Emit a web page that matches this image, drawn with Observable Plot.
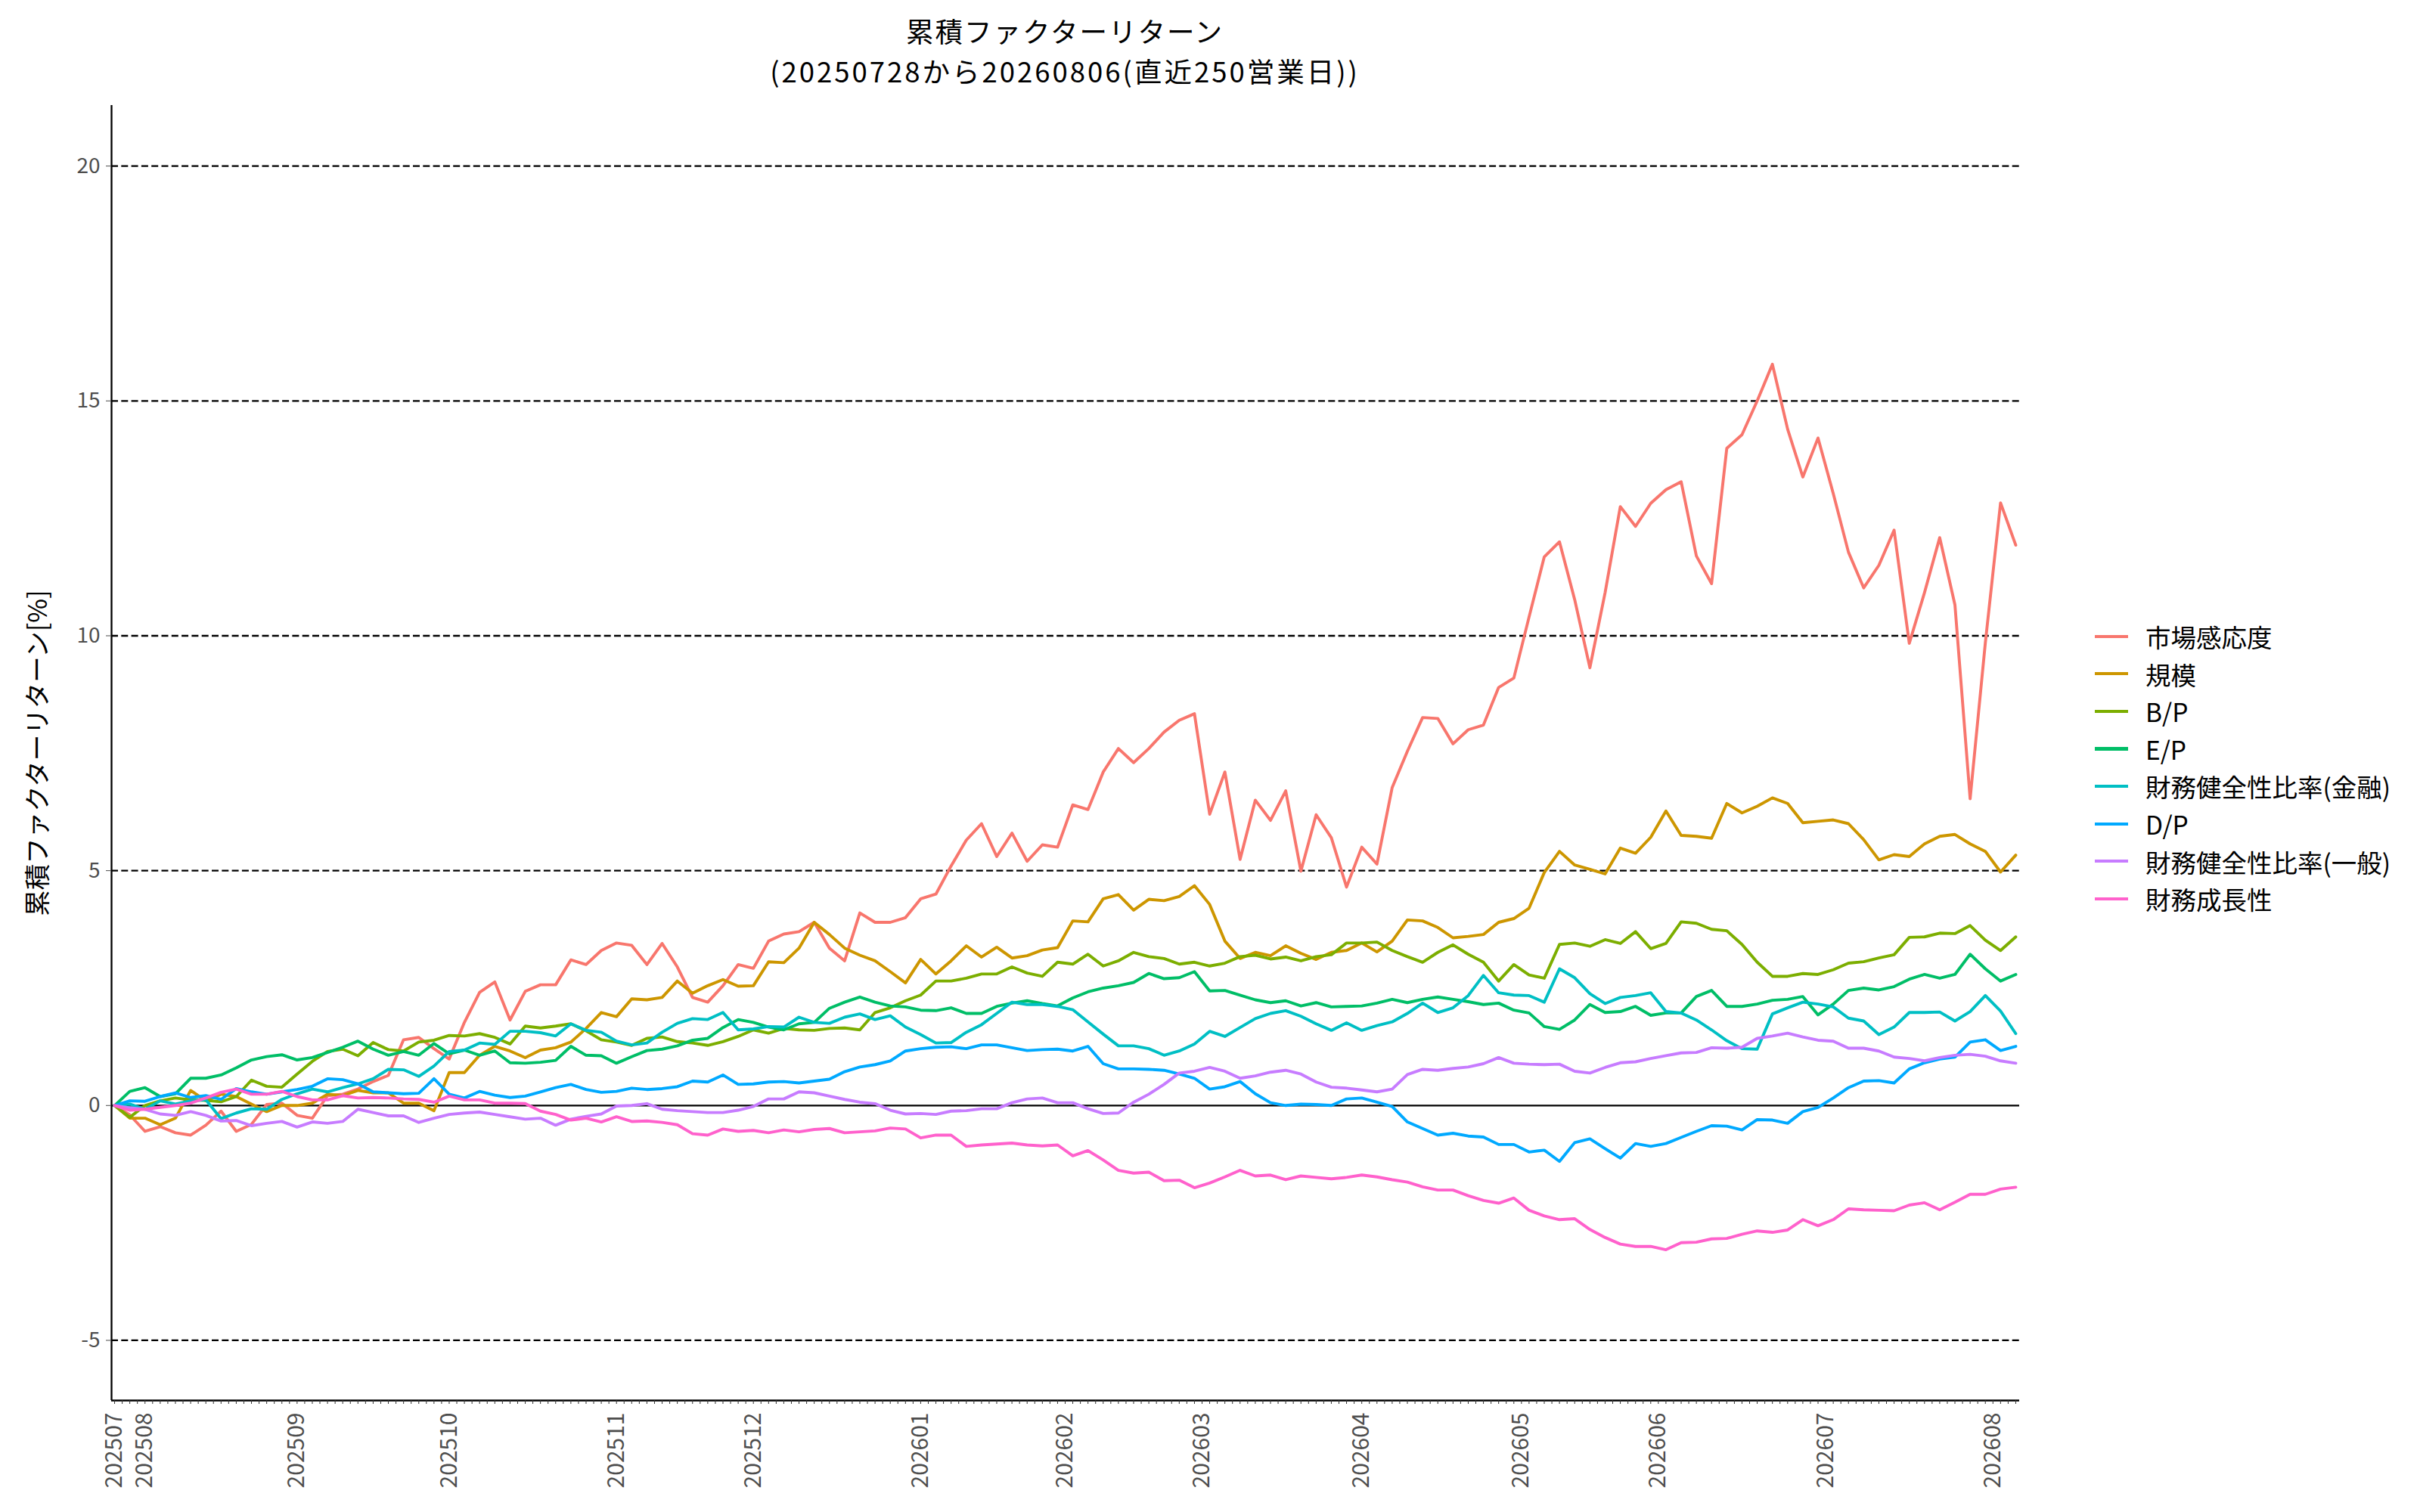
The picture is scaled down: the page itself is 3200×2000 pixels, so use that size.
<!DOCTYPE html>
<html><head><meta charset="utf-8">
<script src="https://cdn.jsdelivr.net/npm/d3@7"></script>
<script src="https://cdn.jsdelivr.net/npm/@observablehq/plot@0.6"></script>
<style>
html,body{margin:0;padding:0;background:#fff;}
#wrap{position:relative;width:3200px;height:2000px;font-family:"Noto Sans CJK JP",sans-serif;}
#chart{position:absolute;left:0;top:0;}
#title{position:absolute;left:0;width:2816px;top:14px;text-align:center;font-size:36.5px;color:#000;}
#title div{display:block;height:53px;line-height:53px;white-space:nowrap;}
#title .t1{letter-spacing:2px;}
#title .t2{letter-spacing:3px;}
#legend{position:absolute;left:2770px;top:817px;}
.item{display:flex;align-items:center;height:49.6px;}
.key{width:44px;height:4.2px;margin-right:23px;}
.lab{font-size:33.5px;color:#000;white-space:nowrap;line-height:1;}
</style></head><body>
<div id="wrap"><div id="chart"></div><div id="title"><div class="t1">累積ファクターリターン</div><div class="t2">(20250728から20260806(直近250営業日))</div></div><div id="legend"></div></div>
<script>
// ---- data ----
const factors = ["市場感応度","規模","B/P","E/P","財務健全性比率(金融)","D/P","財務健全性比率(一般)","財務成長性"];
const colors  = ["#F8766D","#CD9600","#7CAE00","#00BE67","#00BFC4","#00A9FF","#C77CFF","#FF61CC"];
const monthLabels   = ["202507","202508","202509","202510","202511","202512","202601","202602","202603","202604","202605","202606","202607","202608"];
const monthStartDay = [0,4,24,44,66,84,106,125,143,164,185,203,225,247];
const yTicks = [-5,0,5,10,15,20];
const yTitle = "累積ファクターリターン[%]";
const lastDay = 250;
// sampled every 2nd business day (day index 0,2,...,250)
const sampleDays = d3.range(0, lastDay + 1, 2);

const market = [0,-0.2,-0.55,-0.45,-0.58,-0.63,-0.42,-0.12,-0.55,-0.4,0.02,0.05,-0.21,-0.27,0.21,0.24,0.35,0.51,0.64,1.4,1.45,1.21,0.99,1.77,2.41,2.63,1.82,2.43,2.57,2.57,
 3.1,3.0,3.3,3.46,3.41,3.0,3.45,2.95,2.3,2.2,2.55,3.0,2.92,3.5,3.65,3.7,3.9,3.35,3.08,4.1,3.9,3.9,4.0,4.4,4.5,5.1,5.65,6.0,5.3,5.8,
 5.2,5.55,5.5,6.4,6.3,7.1,7.6,7.3,7.6,7.95,8.2,8.34,6.2,7.1,5.24,6.5,6.07,6.7,4.99,6.19,5.7,4.65,5.5,5.14,6.77,7.54,8.26,8.24,7.7,8.0,
 8.1,8.9,9.1,10.4,11.68,12.0,10.77,9.32,10.92,12.75,12.33,12.82,13.11,13.28,11.7,11.11,13.99,14.28,15.0,15.78,14.4,13.38,14.21,13.03,11.78,11.02,11.5,12.25,9.84,
 10.92,12.09,10.66,6.53,9.85,12.83,11.93];
const size = [0,-0.27,-0.27,-0.41,-0.27,0.32,0.1,0.24,0.19,0.03,-0.13,0,0,0.05,0.24,0.21,0.32,0.27,0.27,0.05,0.05,-0.11,0.7,0.7,1.07,1.26,1.16,1.02,1.18,1.23,
 1.35,1.64,1.98,1.89,2.27,2.25,2.3,2.65,2.39,2.55,2.68,2.54,2.55,3.06,3.04,3.35,3.9,3.64,3.35,3.2,3.08,2.85,2.61,3.11,2.8,3.08,3.4,3.16,3.37,3.14,
 3.19,3.31,3.36,3.93,3.91,4.4,4.49,4.16,4.39,4.36,4.45,4.68,4.28,3.5,3.13,3.26,3.19,3.4,3.24,3.11,3.26,3.3,3.46,3.27,3.5,3.95,3.93,3.79,3.57,3.6,
 3.64,3.9,3.98,4.2,4.96,5.41,5.12,5.03,4.93,5.48,5.37,5.71,6.27,5.75,5.73,5.69,6.43,6.23,6.37,6.55,6.43,6.02,6.05,6.08,6.0,5.66,5.23,5.34,5.3,
 5.57,5.73,5.77,5.57,5.41,4.97,5.33];
const bp = [0,-0.25,0.0,0.1,0.16,0.12,0.11,0.08,0.19,0.54,0.41,0.39,0.67,0.94,1.15,1.2,1.06,1.34,1.19,1.16,1.35,1.39,1.49,1.48,1.53,1.45,1.31,1.69,1.65,1.69,
 1.74,1.59,1.4,1.35,1.28,1.43,1.46,1.36,1.33,1.28,1.36,1.47,1.61,1.54,1.64,1.61,1.6,1.64,1.65,1.61,1.98,2.08,2.23,2.35,2.65,2.65,2.71,2.8,2.8,2.95,
 2.82,2.75,3.05,3.01,3.22,2.97,3.08,3.26,3.17,3.13,3.01,3.05,2.97,3.03,3.17,3.2,3.12,3.16,3.08,3.17,3.21,3.46,3.46,3.48,3.3,3.17,3.05,3.26,3.42,3.22,
 3.05,2.65,3.0,2.78,2.71,3.43,3.46,3.39,3.53,3.45,3.7,3.34,3.45,3.91,3.88,3.75,3.72,3.43,3.05,2.75,2.75,2.81,2.79,2.89,3.03,3.06,3.14,3.21,3.58,
 3.59,3.67,3.66,3.83,3.52,3.3,3.59];
const ep = [0,0.3,0.38,0.19,0.25,0.58,0.58,0.65,0.8,0.97,1.04,1.08,0.97,1.02,1.13,1.24,1.37,1.2,1.07,1.15,1.07,1.32,1.1,1.18,1.07,1.16,0.91,0.9,0.92,0.96,
 1.26,1.07,1.06,0.9,1.04,1.17,1.2,1.27,1.39,1.43,1.66,1.83,1.77,1.67,1.61,1.74,1.77,2.07,2.2,2.31,2.2,2.12,2.1,2.03,2.02,2.08,1.96,1.96,2.11,2.18,
 2.23,2.17,2.12,2.29,2.42,2.5,2.55,2.62,2.81,2.7,2.72,2.85,2.44,2.45,2.35,2.25,2.19,2.23,2.12,2.19,2.1,2.11,2.12,2.18,2.26,2.19,2.26,2.31,2.26,2.21,
 2.15,2.18,2.03,1.97,1.68,1.62,1.82,2.15,1.98,2.0,2.11,1.92,1.97,1.97,2.32,2.45,2.11,2.11,2.16,2.24,2.26,2.32,1.93,2.16,2.45,2.5,2.46,2.53,2.69,
 2.79,2.71,2.79,3.22,2.91,2.65,2.79];
const finHealthFin = [0,0.03,-0.08,0.1,0.03,0.1,0.12,-0.28,-0.16,-0.07,-0.08,0.13,0.25,0.35,0.29,0.38,0.46,0.57,0.77,0.76,0.62,0.84,1.15,1.18,1.33,1.3,1.58,1.58,1.55,1.48,
 1.74,1.6,1.56,1.37,1.29,1.33,1.56,1.75,1.85,1.83,1.98,1.61,1.63,1.68,1.67,1.88,1.77,1.75,1.88,1.95,1.83,1.91,1.67,1.51,1.33,1.34,1.56,1.72,1.96,2.2,
 2.15,2.15,2.11,2.04,1.78,1.52,1.27,1.27,1.21,1.07,1.16,1.31,1.58,1.47,1.66,1.85,1.96,2.02,1.9,1.74,1.6,1.76,1.6,1.7,1.78,1.96,2.18,1.98,2.08,2.34,
 2.77,2.4,2.35,2.34,2.2,2.91,2.72,2.38,2.17,2.3,2.34,2.4,2.0,1.97,1.82,1.61,1.38,1.21,1.2,1.95,2.08,2.2,2.16,2.1,1.86,1.8,1.51,1.67,1.98,
 1.98,1.99,1.8,2.0,2.34,2.01,1.53];
const dp = [0,0.1,0.09,0.19,0.27,0.17,0.21,0.13,0.36,0.29,0.24,0.29,0.34,0.41,0.57,0.55,0.46,0.29,0.27,0.25,0.26,0.57,0.24,0.16,0.3,0.22,0.17,0.2,0.29,0.38,
 0.45,0.34,0.28,0.3,0.37,0.34,0.36,0.4,0.52,0.5,0.65,0.45,0.46,0.5,0.51,0.48,0.52,0.56,0.72,0.82,0.87,0.95,1.16,1.21,1.24,1.25,1.21,1.29,1.29,1.23,
 1.17,1.19,1.2,1.16,1.26,0.89,0.78,0.78,0.77,0.75,0.67,0.58,0.35,0.4,0.51,0.25,0.06,0,0.03,0.02,0,0.14,0.16,0.07,-0.02,-0.35,-0.49,-0.63,-0.59,-0.65,
 -0.67,-0.83,-0.83,-0.99,-0.95,-1.19,-0.79,-0.71,-0.92,-1.12,-0.81,-0.87,-0.81,-0.68,-0.55,-0.43,-0.44,-0.52,-0.3,-0.31,-0.38,-0.13,-0.04,0.16,0.38,0.52,0.53,0.48,0.78,
 0.91,0.99,1.03,1.35,1.4,1.17,1.26];
const finHealthGen = [0,-0.05,-0.08,-0.18,-0.21,-0.13,-0.21,-0.33,-0.32,-0.43,-0.38,-0.34,-0.46,-0.35,-0.38,-0.34,-0.08,-0.15,-0.22,-0.22,-0.36,-0.27,-0.19,-0.16,-0.14,-0.19,-0.24,-0.29,-0.27,-0.42,
 -0.29,-0.23,-0.18,-0.01,0,0.04,-0.08,-0.11,-0.13,-0.15,-0.15,-0.1,-0.02,0.14,0.14,0.29,0.27,0.2,0.13,0.07,0.04,-0.1,-0.18,-0.17,-0.19,-0.12,-0.11,-0.07,-0.07,0.06,
 0.14,0.16,0.06,0.06,-0.07,-0.17,-0.16,0.07,0.24,0.45,0.69,0.73,0.81,0.73,0.58,0.63,0.71,0.75,0.67,0.5,0.39,0.37,0.33,0.29,0.35,0.66,0.77,0.75,0.79,0.82,
 0.89,1.02,0.9,0.88,0.87,0.88,0.73,0.69,0.81,0.91,0.93,1.0,1.06,1.12,1.13,1.23,1.22,1.24,1.43,1.48,1.54,1.46,1.39,1.37,1.22,1.22,1.16,1.03,1.0,
 0.95,1.02,1.07,1.09,1.05,0.95,0.9];
const finGrowth = [0,-0.1,-0.08,-0.04,0,0.05,0.16,0.28,0.35,0.24,0.24,0.3,0.19,0.12,0.12,0.21,0.16,0.17,0.16,0.14,0.13,0.07,0.2,0.12,0.12,0.05,0.05,0.04,-0.12,-0.19,
 -0.31,-0.27,-0.35,-0.24,-0.34,-0.33,-0.36,-0.41,-0.6,-0.63,-0.5,-0.55,-0.53,-0.58,-0.52,-0.56,-0.51,-0.49,-0.58,-0.56,-0.54,-0.48,-0.5,-0.69,-0.63,-0.63,-0.87,-0.84,-0.82,-0.8,
 -0.84,-0.86,-0.84,-1.07,-0.96,-1.16,-1.38,-1.44,-1.42,-1.6,-1.59,-1.75,-1.65,-1.52,-1.38,-1.5,-1.48,-1.58,-1.5,-1.53,-1.56,-1.53,-1.48,-1.52,-1.58,-1.63,-1.73,-1.8,-1.8,-1.92,
 -2.02,-2.08,-1.97,-2.23,-2.35,-2.43,-2.41,-2.64,-2.81,-2.95,-3.0,-3.0,-3.07,-2.92,-2.91,-2.84,-2.83,-2.74,-2.67,-2.7,-2.65,-2.43,-2.56,-2.43,-2.2,-2.22,-2.23,-2.24,-2.12,
 -2.07,-2.22,-2.06,-1.89,-1.89,-1.78,-1.74];

const seriesValues = [market, size, bp, ep, finHealthFin, dp, finHealthGen, finGrowth];

// ---- build long table ----
const rows = [];
factors.forEach((f, k) => {
  seriesValues[k].forEach((v, j) => rows.push({factor: f, day: sampleDays[j], value: v}));
});
const labelOf = new Map(monthStartDay.map((d, i) => [d, monthLabels[i]]));
const allDays = d3.range(0, lastDay + 1);
const gridValues = yTicks.filter(v => v !== 0);

const xDomain = [-0.4, 250.5];
const yDomain = [-6.28, 21.29];

const chart = Plot.plot({
  width: 3200, height: 2000,
  marginLeft: 147, marginRight: 530, marginTop: 139, marginBottom: 148,
  x: {domain: xDomain},
  y: {domain: yDomain},
  color: {domain: factors, range: colors},
  style: {fontFamily: "'Noto Sans CJK JP', sans-serif", background: "white", overflow: "visible"},
  marks: [
    Plot.ruleY(gridValues, {stroke: "black", strokeWidth: 2.3, strokeDasharray: "9,4.3"}),
    Plot.ruleY([0], {stroke: "black", strokeWidth: 2.3}),
    Plot.line(rows, {x: "day", y: "value", z: "factor", stroke: "factor", strokeWidth: 3.9}),
    Plot.ruleX([xDomain[0]], {stroke: "black", strokeWidth: 2.3}),
    Plot.ruleY([yDomain[0]], {stroke: "black", strokeWidth: 2.6}),
    Plot.axisY({ticks: yTicks, tickFormat: d => String(d), tickSize: 7, tickPadding: 8, fontSize: 28, color: "#4D4D4D", label: null}),
    Plot.axisX({ticks: allDays, tickSize: 5, text: null, stroke: "#333", label: null}),
    Plot.axisX({ticks: monthStartDay, tickFormat: d => labelOf.get(d), tickSize: 0, tickPadding: 16, tickRotate: -90, fontSize: 30, color: "#4D4D4D", label: null}),
    Plot.text([yTitle], {frameAnchor: "left", dx: -97, rotate: -90, textAnchor: "middle", lineAnchor: "middle", fontSize: 34.5, fill: "black"})
  ]
});
document.getElementById("chart").appendChild(chart);

// ---- legend ----
const legend = document.getElementById("legend");
factors.forEach((f, k) => {
  const it = document.createElement("div"); it.className = "item";
  const key = document.createElement("div"); key.className = "key"; key.style.background = colors[k];
  const lab = document.createElement("div"); lab.className = "lab"; lab.textContent = f;
  it.appendChild(key); it.appendChild(lab); legend.appendChild(it);
});
</script></body></html>
